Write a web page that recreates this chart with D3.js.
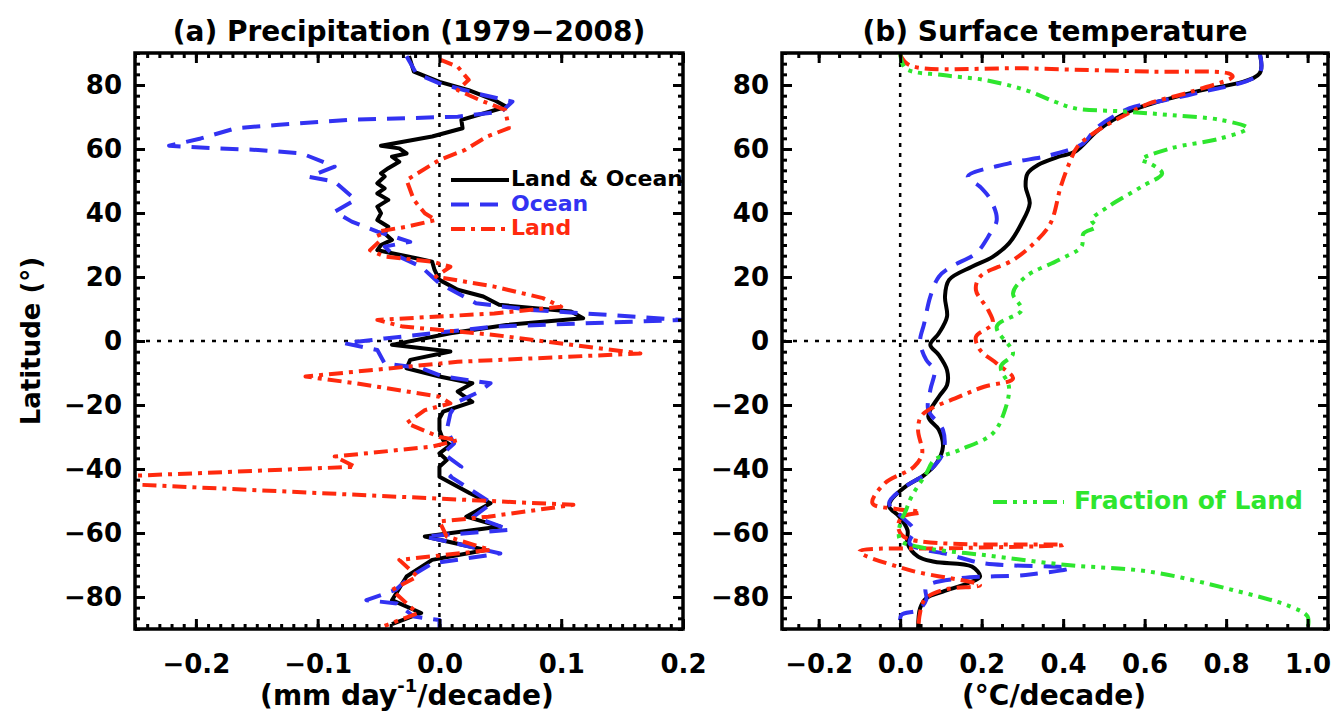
<!DOCTYPE html>
<html>
<head>
<meta charset="utf-8">
<script src="https://cdn.jsdelivr.net/npm/d3@7"></script>
<style>
  body { margin: 0; background: #fff; }
  svg { display: block; }
  text { font-family: "DejaVu Sans", sans-serif; font-weight: bold; }
</style>
</head>
<body>
<svg id="chart" width="1335" height="717"></svg>
<script>
// ---------- (a) Precipitation trend (mm day-1 / decade) ----------
const precipLatLO = [89, 84.2, 81.0, 78.4, 75.3, 73.2, 69.1, 66.5, 63.9, 61.0, 60.2, 58.6, 57.6, 56.0, 54.0, 52.4, 51.4, 49.3, 47.7, 46.1, 44.1, 42.0, 39.9, 37.8, 35.7, 33.6, 31.6, 30.0, 28.4, 27.4, 25.8, 24.8, 22.2, 19.1, 16.0, 13.9, 11.3, 9.2, 7.1, 5.0, 2.4, -1.2, -3.3, -5.9, -8.5, -11.1, -13.2, -15.8, -19.0, -22.1, -24.2, -27.8, -31.0, -32.5, -35.1, -37.2, -39.3, -42.4, -47.6, -50.7, -54.9, -58.0, -61.1, -65.3, -68.4, -73.6, -81.0, -85.0, -88.5];
const precipLO = [-0.025, -0.021, 0.0, 0.024, 0.045, 0.055, 0.018, 0.019, -0.006, -0.048, -0.033, -0.027, -0.039, -0.033, -0.042, -0.048, -0.045, -0.051, -0.045, -0.051, -0.042, -0.051, -0.048, -0.051, -0.042, -0.045, -0.039, -0.048, -0.051, -0.039, -0.018, -0.006, -0.004, 0.0, 0.015, 0.036, 0.049, 0.108, 0.118, 0.055, 0.009, -0.039, 0.009, -0.024, -0.027, 0.0, 0.027, 0.015, 0.027, 0.003, 0.0, 0.0, 0.003, 0.009, 0.0, 0.006, 0.0, 0.0, 0.025, 0.042, 0.022, 0.05, -0.012, 0.038, -0.006, -0.027, -0.039, -0.015, -0.039];

const precipLatOcean = [89, 83.6, 80.5, 77.4, 74.8, 71.7, 70.1, 69.1, 67.5, 66.5, 63.3, 61.0, 60.2, 59.7, 58.6, 54.5, 51.3, 49.8, 44.1, 40.4, 37.3, 34.2, 31.0, 29.5, 27.4, 23.2, 20.1, 18.0, 11.8, 9.7, 8.6, 6.6, 4.5, 0.8, -0.7, -2.8, -7.0, -8.5, -11.1, -13.2, -15.8, -19.0, -22.6, -27.8, -32.0, -35.1, -39.3, -42.4, -50.7, -54.9, -59.0, -61.1, -66.4, -69.5, -73.6, -77.8, -81.0, -82.0, -86.1, -87.2, -90];
const precipOcean = [-0.027, -0.019, 0.0, 0.03, 0.06, 0.051, 0.015, -0.075, -0.134, -0.167, -0.196, -0.222, -0.182, -0.149, -0.113, -0.086, -0.107, -0.086, -0.069, -0.086, -0.072, -0.051, -0.024, -0.045, -0.039, -0.015, -0.006, 0.0, 0.03, 0.075, 0.12, 0.2, 0.045, -0.045, -0.078, -0.051, -0.045, -0.015, 0.003, 0.042, 0.033, 0.015, 0.009, 0.006, 0.012, 0.003, 0.018, 0.009, 0.043, 0.028, 0.058, -0.012, 0.05, -0.006, -0.024, -0.036, -0.06, -0.035, -0.021, 0.0, 0.0];

const precipLatLand = [88, 85.7, 81.6, 78.4, 75.3, 72.2, 66.5, 63.9, 59.7, 56.6, 50.3, 44.1, 39.9, 37.8, 35.7, 34.2, 31.6, 28.4, 26.4, 24.8, 23.2, 20.1, 17.0, 13.4, 10.7, 8.6, 6.6, 4.5, 1.9, -3.9, -6.5, -11.1, -13.2, -17.4, -19.5, -21.6, -25.7, -30.0, -31.0, -33.0, -36.1, -39.3, -42.4, -44.5, -51.2, -54.9, -56.4, -61.1, -65.3, -68.4, -73.6, -77.8, -85.1, -89];
const precipLand = [0.0, 0.015, 0.024, 0.015, 0.033, 0.054, 0.057, 0.039, 0.021, 0.0, -0.027, -0.021, -0.012, -0.003, -0.027, -0.051, -0.048, -0.057, -0.045, -0.006, 0.009, -0.003, 0.045, 0.085, 0.1, 0.045, -0.051, -0.03, 0.045, 0.165, 0.015, -0.11, -0.069, 0.0, 0.009, -0.012, -0.027, 0.0, 0.015, -0.006, -0.086, -0.069, -0.27, -0.27, 0.11, 0.04, 0.0, 0.006, 0.042, -0.033, -0.018, -0.039, -0.018, -0.045];

// ---------- (b) Surface temperature trend (degC / decade) ----------
const tempLatLO = [90, 83.6, 77.9, 74.8, 71.7, 65.9, 59.2, 57.6, 55.0, 52.4, 48.2, 43.0, 36.8, 30.5, 26.3, 23.2, 19.1, 13.9, 7.6, 2.4, -1.2, -4.4, -9.1, -13.8, -17.4, -23.6, -27.8, -33.0, -38.2, -41.9, -45.5, -49.7, -51.8, -54.9, -59.1, -63.2, -67.4, -69.0, -70.5, -73.6, -75.7, -78.3, -80.4, -83.5, -90];
const tempLO = [0.882, 0.882, 0.725, 0.633, 0.562, 0.486, 0.430, 0.389, 0.338, 0.313, 0.308, 0.318, 0.298, 0.267, 0.227, 0.176, 0.120, 0.110, 0.115, 0.095, 0.074, 0.095, 0.115, 0.115, 0.095, 0.069, 0.095, 0.105, 0.089, 0.059, 0.013, -0.022, -0.027, -0.002, 0.018, 0.018, 0.044, 0.084, 0.176, 0.196, 0.166, 0.105, 0.064, 0.049, 0.044];

const tempLatOcean = [90, 83.6, 77.4, 74.3, 72.7, 66.5, 61.8, 58.1, 55.5, 51.4, 48.2, 44.1, 37.8, 32.6, 27.4, 23.2, 20.1, 13.9, 5.5, -0.2, -5.9, -9.1, -15.3, -21.6, -27.8, -35.1, -41.4, -45.5, -50.7, -54.9, -59.1, -63.2, -66.9, -69.5, -71.0, -73.1, -74.2, -76.8, -80.9, -84.1, -85.6, -90];
const tempOcean = [0.882, 0.882, 0.725, 0.613, 0.562, 0.481, 0.450, 0.369, 0.267, 0.166, 0.196, 0.222, 0.237, 0.216, 0.186, 0.125, 0.095, 0.074, 0.059, 0.049, 0.064, 0.084, 0.074, 0.069, 0.105, 0.105, 0.064, 0.013, -0.027, 0.003, 0.034, 0.023, 0.125, 0.206, 0.415, 0.308, 0.145, 0.064, 0.064, 0.044, 0.003, 0.0];

const tempLatLand = [89.5, 86.2, 85.2, 84.2, 83.6, 82.6, 77.9, 74.3, 70.6, 65.9, 60.7, 55.5, 48.2, 36.8, 30.5, 25.3, 20.1, 15.9, 9.7, 5.5, 1.3, -2.8, -7.0, -11.7, -14.3, -17.4, -23.1, -27.8, -35.1, -39.3, -44.5, -50.7, -52.5, -53.5, -55.0, -58.0, -61.5, -63.7, -64.8, -65.8, -71.6, -76.3, -77.8, -81.0, -90];
const tempLand = [0.0, 0.023, 0.308, 0.613, 0.806, 0.816, 0.714, 0.613, 0.552, 0.486, 0.435, 0.415, 0.394, 0.369, 0.328, 0.277, 0.196, 0.186, 0.216, 0.227, 0.186, 0.196, 0.237, 0.277, 0.206, 0.145, 0.054, 0.044, 0.054, 0.034, -0.038, -0.068, -0.010, 0.050, 0.005, -0.005, 0.013, 0.400, 0.120, -0.100, 0.023, 0.196, 0.105, 0.059, 0.044];

const fracLat = [90, 85.2, 83.1, 81.6, 78.4, 74.8, 72.7, 71.7, 70.6, 69.1, 66.5, 63.3, 60.2, 56.6, 55.5, 52.4, 48.2, 42.0, 37.8, 35.7, 33.6, 29.5, 25.3, 20.1, 14.9, 9.7, 4.5, -3.9, -8.0, -14.3, -21.6, -28.9, -34.1, -37.2, -41.4, -48.6, -53.3, -57.0, -62.2, -64.3, -66.9, -70.0, -72.1, -77.8, -83.0, -86.1, -90];
const fracLand = [0.0, 0.013, 0.105, 0.206, 0.308, 0.379, 0.430, 0.552, 0.664, 0.786, 0.852, 0.786, 0.664, 0.592, 0.613, 0.643, 0.592, 0.511, 0.470, 0.480, 0.450, 0.445, 0.389, 0.308, 0.277, 0.298, 0.237, 0.277, 0.247, 0.267, 0.257, 0.227, 0.145, 0.084, 0.064, 0.028, 0.013, 0.0, 0.0, 0.044, 0.206, 0.410, 0.613, 0.816, 0.958, 1.0, 1.0];

// ---------- axis ticks ----------
const latMajor = [-80, -60, -40, -20, 0, 20, 40, 60, 80];
const latMinor = d3.range(0, 55).map(i => -90 + i * 20 / 6);
const precipMajor = [-0.2, -0.1, 0.0, 0.1, 0.2];
const precipMinor = d3.range(-25, 21).map(i => i / 100);
const tempMajor = [-0.2, 0.0, 0.2, 0.4, 0.6, 0.8, 1.0];
const tempMinor = d3.range(-5, 22).map(i => i * 0.05);

// ---------- colours & line styles ----------
const BLACK = "#000000", BLUE = "#3232f2", RED = "#ff2a0e", GREEN = "#2ee62e";
const DASH_OCEAN = "18,11";
const DASH_LAND = "14,6,4,6";
const DASH_FRAC = "14,6,4,6,4,6,4,6";

const svg = d3.select("#chart");
const y = d3.scaleLinear().domain([-90, 90]).range([629, 53]);
const xA = d3.scaleLinear().domain([-0.25, 0.2]).range([135, 683]);
const xB = d3.scaleLinear().domain([-0.29, 1.05]).range([782, 1328]);

function zip(lats, vals) { return lats.map((l, i) => ({ lat: l, v: vals[i] })); }

function drawPanel(id, x, series, curve, majorX, minorX, fmtX) {
  const [x0, x1] = x.range();
  const [y1, y0] = y.range();
  const g = svg.append("g").attr("class", "panel-" + id);

  g.append("clipPath").attr("id", "clip-" + id)
    .append("rect").attr("x", x0).attr("y", y0).attr("width", x1 - x0).attr("height", y1 - y0);

  // zero reference lines
  g.append("line").attr("x1", x(0)).attr("x2", x(0)).attr("y1", y0).attr("y2", y1)
    .attr("stroke", BLACK).attr("stroke-width", 2.5).attr("stroke-dasharray", "4,6");
  g.append("line").attr("x1", x0).attr("x2", x1).attr("y1", y(0)).attr("y2", y(0))
    .attr("stroke", BLACK).attr("stroke-width", 2.5).attr("stroke-dasharray", "4,7");

  const line = d3.line().x(d => x(d.v)).y(d => y(d.lat)).curve(curve);
  const plot = g.append("g").attr("clip-path", `url(#clip-${id})`);
  series.forEach(s => {
    plot.append("path").datum(zip(s.lat, s.val))
      .attr("d", line).attr("fill", "none")
      .attr("stroke", s.color).attr("stroke-width", 4)
      .attr("stroke-linejoin", "round")
      .attr("stroke-dasharray", s.dash || null);
  });

  const styleAxis = a => {
    a.select(".domain").remove();
    a.selectAll("line").attr("stroke", BLACK).attr("stroke-width", 3);
    a.selectAll("text").attr("font-size", 26).attr("fill", BLACK)
      .style("font-family", '"DejaVu Sans", sans-serif').style("font-weight", "bold");
  };

  // bottom / top
  g.append("g").attr("transform", `translate(0,${y1})`)
    .call(d3.axisBottom(x).tickValues(minorX).tickSize(-5).tickFormat("")).call(styleAxis);
  g.append("g").attr("transform", `translate(0,${y1})`)
    .call(d3.axisBottom(x).tickValues(majorX).tickSize(-10).tickPadding(26).tickFormat(fmtX)).call(styleAxis);
  g.append("g").attr("transform", `translate(0,${y0})`)
    .call(d3.axisTop(x).tickValues(minorX).tickSize(-5).tickFormat("")).call(styleAxis);
  g.append("g").attr("transform", `translate(0,${y0})`)
    .call(d3.axisTop(x).tickValues(majorX).tickSize(-10).tickFormat("")).call(styleAxis);
  // left / right
  g.append("g").attr("transform", `translate(${x0},0)`)
    .call(d3.axisLeft(y).tickValues(latMinor).tickSize(-5).tickFormat("")).call(styleAxis);
  g.append("g").attr("transform", `translate(${x0},0)`)
    .call(d3.axisLeft(y).tickValues(latMajor).tickSize(-10).tickPadding(13).tickFormat(d3.format("d"))).call(styleAxis);
  g.append("g").attr("transform", `translate(${x1},0)`)
    .call(d3.axisRight(y).tickValues(latMinor).tickSize(-5).tickFormat("")).call(styleAxis);
  g.append("g").attr("transform", `translate(${x1},0)`)
    .call(d3.axisRight(y).tickValues(latMajor).tickSize(-10).tickFormat("")).call(styleAxis);

  g.append("rect").attr("x", x0).attr("y", y0).attr("width", x1 - x0).attr("height", y1 - y0)
    .attr("fill", "none").attr("stroke", BLACK).attr("stroke-width", 3.5);
  return g;
}

// panel (a)
drawPanel("a", xA, [
  { lat: precipLatLO, val: precipLO, color: BLACK },
  { lat: precipLatOcean, val: precipOcean, color: BLUE, dash: DASH_OCEAN },
  { lat: precipLatLand, val: precipLand, color: RED, dash: DASH_LAND }
], d3.curveLinear, precipMajor, precipMinor, d3.format(".1f"));

// panel (b)
drawPanel("b", xB, [
  { lat: tempLatLO, val: tempLO, color: BLACK },
  { lat: tempLatOcean, val: tempOcean, color: BLUE, dash: DASH_OCEAN },
  { lat: tempLatLand, val: tempLand, color: RED, dash: DASH_LAND },
  { lat: fracLat, val: fracLand, color: GREEN, dash: DASH_FRAC }
], d3.curveCatmullRom.alpha(0.5), tempMajor, tempMinor, d3.format(".1f"));

// titles
svg.append("text").attr("x", 409).attr("y", 41).attr("text-anchor", "middle")
  .attr("font-size", 28).text("(a) Precipitation (1979\u22122008)");
svg.append("text").attr("x", 1055).attr("y", 41).attr("text-anchor", "middle")
  .attr("font-size", 28).text("(b) Surface temperature");

// axis titles
const xt = svg.append("text").attr("x", 407).attr("y", 705).attr("text-anchor", "middle").attr("font-size", 28);
xt.append("tspan").text("(mm day");
xt.append("tspan").attr("font-size", 18).attr("dy", -13).text("-1");
xt.append("tspan").attr("dy", 13).text("/decade)");
svg.append("text").attr("x", 1054).attr("y", 705).attr("text-anchor", "middle").attr("font-size", 28)
  .text("(\u00b0C/decade)");
svg.append("text").attr("transform", "translate(40,341) rotate(-90)").attr("text-anchor", "middle")
  .attr("font-size", 26).text("Latitude (\u00b0)");

// legend, panel (a)
const legendA = [
  { label: "Land & Ocean", color: BLACK, dash: null },
  { label: "Ocean", color: BLUE, dash: DASH_OCEAN },
  { label: "Land", color: RED, dash: DASH_LAND }
];
legendA.forEach((d, i) => {
  const ly = 180 + i * 24.5;
  svg.append("line").attr("x1", 451).attr("x2", 509).attr("y1", ly).attr("y2", ly)
    .attr("stroke", d.color).attr("stroke-width", 4).attr("stroke-dasharray", d.dash);
  svg.append("text").attr("x", 511).attr("y", ly + 6).attr("font-size", 22)
    .attr("fill", d.color).text(d.label);
});

// legend, panel (b)
svg.append("line").attr("x1", 993).attr("x2", 1064).attr("y1", 502).attr("y2", 502)
  .attr("stroke", GREEN).attr("stroke-width", 4).attr("stroke-dasharray", DASH_FRAC);
svg.append("text").attr("x", 1074).attr("y", 509).attr("font-size", 25).attr("fill", GREEN)
  .text("Fraction of Land");
</script>
</body>
</html>
